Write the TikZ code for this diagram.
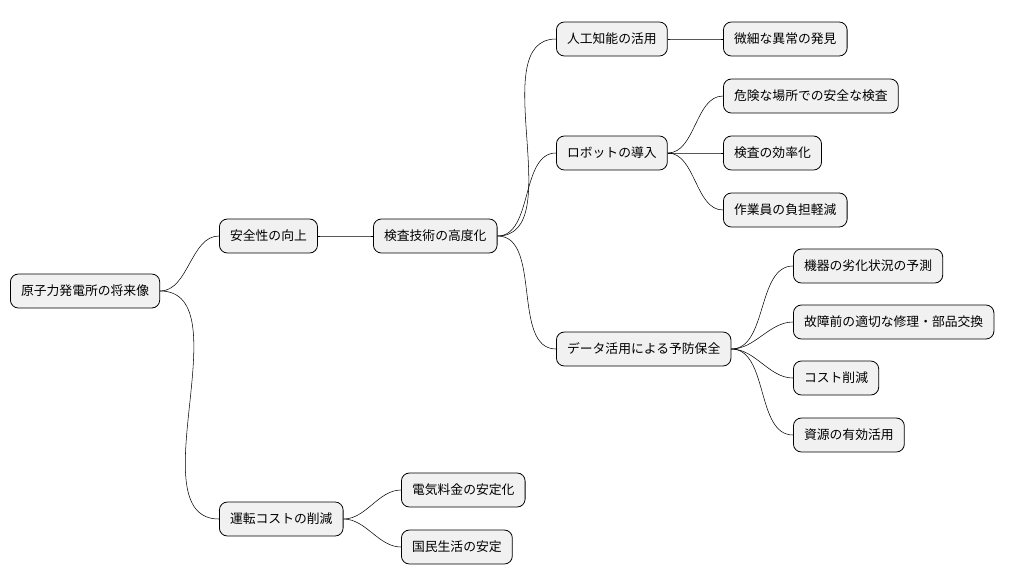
\documentclass[tikz,border=0pt]{standalone}
\usepackage{fontspec}
\setmainfont{Noto Sans CJK JP}
\usetikzlibrary{positioning}
\definecolor{boxfill}{HTML}{F1F1F1}

\begin{document}
\begin{tikzpicture}[
            x = 0.75pt, y = -0.75pt, % pixel grid
            semithick,
            topic/.style = {draw, fill = boxfill, rounded corners = 6pt,
                anchor = west, minimum height = 25.5pt, inner xsep = 8pt,
                font = \fontsize{9.6pt}{11pt}\selectfont},
            branch/.style = {thin, out = 0, in = 180, looseness = 0.9}
        ]

        \useasboundingbox (0,0) rectangle (1020,583);

	% root and first level
        \node[topic] (root) at (10,291) {原子力発電所の将来像};
        \node[topic] (safe) at (219,236) {安全性の向上};
        \node[topic] (cost) at (219,519) {運転コストの削減};
        \node[topic] (insp) at (373,236) {検査技術の高度化};

        % inspection branches
        \node[topic] (ai) at (556,39) {人工知能の活用};
        \node[topic] (robot) at (556,153) {ロボットの導入};
        \node[topic] (data) at (556,349) {データ活用による予防保全};

        \node[topic] (ai1) at (723,39) {微細な異常の発見};
        \node[topic] (rb1) at (723,96) {危険な場所での安全な検査};
        \node[topic] (rb2) at (723,153) {検査の効率化};
        \node[topic] (rb3) at (723,210) {作業員の負担軽減};

        \node[topic] (dt1) at (793,266) {機器の劣化状況の予測};
        \node[topic] (dt2) at (793,322) {故障前の適切な修理・部品交換};
        \node[topic] (dt3) at (793,378) {コスト削減};
        \node[topic] (dt4) at (793,435) {資源の有効活用};

        % cost branches
        \node[topic] (ct1) at (401,490) {電気料金の安定化};
        \node[topic] (ct2) at (401,547) {国民生活の安定};

        \draw[branch] (root.east) to (safe.west);
        \draw[branch] (root.east) to (cost.west);
        \draw[branch] (safe.east) to (insp.west);
        \draw[branch] (insp.east) to (ai.west);
        \draw[branch] (insp.east) to (robot.west);
        \draw[branch] (insp.east) to (data.west);
        \draw[branch] (ai.east) to (ai1.west);
        \draw[branch] (robot.east) to (rb1.west);
        \draw[branch] (robot.east) to (rb2.west);
        \draw[branch] (robot.east) to (rb3.west);
        \draw[branch] (data.east) to (dt1.west);
        \draw[branch] (data.east) to (dt2.west);
        \draw[branch] (data.east) to (dt3.west);
        \draw[branch] (data.east) to (dt4.west);
        \draw[branch] (cost.east) to (ct1.west);
        \draw[branch] (cost.east) to (ct2.west);

  \end{tikzpicture}
\end{document}
